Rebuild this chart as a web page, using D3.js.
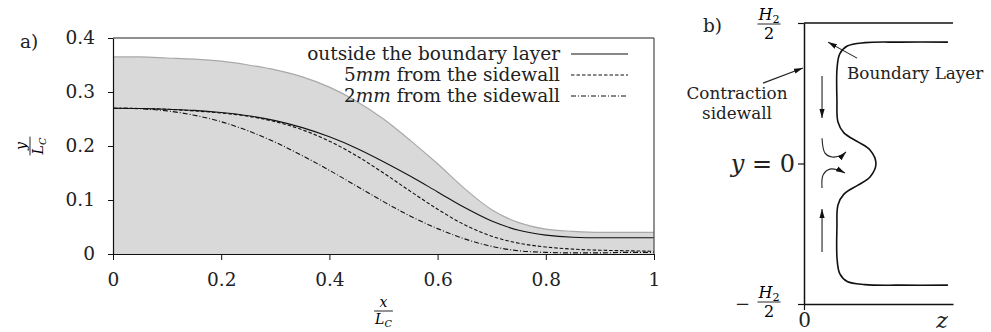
<!DOCTYPE html>
<html>
<head>
<meta charset="utf-8">
<script src="https://cdn.jsdelivr.net/npm/d3@7"></script>
<style>
  body { margin: 0; background: #fff; }
  svg { display: block; font-family: 'DejaVu Serif', serif; }
  .axis text { font-family: 'DejaVu Serif', serif; font-size: 18.5px; fill: #222; }
  .axis path, .axis line { stroke: #111; }
</style>
</head>
<body>
<div id="chart"></div>
<script>
// ---- panel a: streamline height along the contraction ----
const XS      = [0, 0.05, 0.1, 0.15, 0.2, 0.25, 0.3, 0.35, 0.4, 0.45, 0.5, 0.55, 0.6, 0.65, 0.7, 0.75, 0.8, 0.85, 0.9, 0.95, 1];
const WALL    = [0.365, 0.365, 0.363, 0.361, 0.357, 0.350, 0.341, 0.328, 0.309, 0.283, 0.250, 0.210, 0.167, 0.121, 0.082, 0.058, 0.046, 0.042, 0.040, 0.040, 0.040];
const OUTSIDE = [0.270, 0.2695, 0.268, 0.266, 0.262, 0.256, 0.247, 0.234, 0.217, 0.196, 0.171, 0.144, 0.115, 0.086, 0.061, 0.044, 0.035, 0.031, 0.030, 0.030, 0.030];
const MM5     = [0.270, 0.2695, 0.268, 0.265, 0.261, 0.255, 0.245, 0.230, 0.209, 0.182, 0.150, 0.116, 0.083, 0.054, 0.033, 0.020, 0.013, 0.009, 0.007, 0.006, 0.005];
const MM2     = [0.270, 0.269, 0.265, 0.257, 0.245, 0.228, 0.207, 0.182, 0.155, 0.126, 0.097, 0.070, 0.047, 0.028, 0.014, 0.006, 0.003, 0.002, 0.002, 0.003, 0.003];

const SERIES_LABELS = [
  [['outside the boundary layer', false]],
  [['5', false], ['mm', true], [' from the sidewall', false]],
  [['2', false], ['mm', true], [' from the sidewall', false]]
];
const X_TICKS = [0, 0.2, 0.4, 0.6, 0.8, 1];
const Y_TICKS = [0, 0.1, 0.2, 0.3, 0.4];

// ---- panel b: sketch of the sidewall boundary layer (z, y/H2) ----
const BL_PROFILE = [
  [0.966, 0.432], [0.644, 0.432], [0.409, 0.430], [0.290, 0.418], [0.240, 0.390], [0.222, 0.340],
  [0.221, 0.226], [0.228, 0.148], [0.268, 0.109], [0.362, 0.077], [0.443, 0.048], [0.483, 0],
  [0.443, -0.048], [0.362, -0.077], [0.268, -0.109], [0.228, -0.148], [0.221, -0.226],
  [0.222, -0.340], [0.240, -0.392], [0.290, -0.420], [0.409, -0.431], [0.644, -0.433], [0.966, -0.433]
];
const FLOW_ARROWS = [
  [[0.121, 0.311], [0.121, 0.162]],
  [[0.121, -0.315], [0.121, -0.162]],
  [[0.121, 0.090], [0.141, 0.037], [0.188, 0.023], [0.255, 0.030], [0.282, 0.041]],
  [[0.121, -0.087], [0.128, -0.041], [0.174, -0.020], [0.228, -0.023], [0.275, -0.034]]
];
const LABEL_ARROWS = [
  [[0.356, 0.375], [0.161, 0.432]],
  [[-0.275, 0.286], [-0.007, 0.340]]
];

const svg = d3.select('#chart').append('svg')
  .attr('width', 991).attr('height', 332);

svg.append('defs').append('marker')
  .attr('id', 'head')
  .attr('viewBox', '0 -3 9 6')
  .attr('refX', 9).attr('refY', 0)
  .attr('markerUnits', 'userSpaceOnUse')
  .attr('markerWidth', 9).attr('markerHeight', 6)
  .attr('orient', 'auto')
  .append('path').attr('d', 'M0,-2.6L9,0L0,2.6Z').attr('fill', '#111');

// small helper for stacked fractions like H2/2
function fraction(g, cx, cy, num, den, size) {
  const f = g.append('g').attr('transform', `translate(${cx},${cy})`)
    .style('font-size', size + 'px');
  const t = f.append('text').attr('text-anchor', 'middle').attr('y', -size * 0.28);
  num.forEach(p => t.append('tspan').attr('font-style', p[1] ? 'italic' : null)
    .attr('font-size', p[2] ? size * 0.7 + 'px' : null)
    .attr('dy', p[2] ? size * 0.2 : null)
    .text(p[0]));
  const b = f.append('text').attr('text-anchor', 'middle').attr('y', size * 0.95);
  den.forEach(p => b.append('tspan').attr('font-style', p[1] ? 'italic' : null)
    .attr('font-size', p[2] ? size * 0.7 + 'px' : null)
    .attr('dy', p[2] ? size * 0.2 : null)
    .text(p[0]));
  const w = Math.max(t.node().getComputedTextLength(), b.node().getComputedTextLength()) + 2;
  f.append('line').attr('x1', -w / 2).attr('x2', w / 2)
    .attr('stroke', '#111').attr('stroke-width', 0.9);
  return f;
}

/* ---------------- panel a ---------------- */
const x = d3.scaleLinear().domain([0, 1]).range([113, 654]);
const y = d3.scaleLinear().domain([0, 0.4]).range([254, 38]);
const ga = svg.append('g');

const rows = XS.map((v, i) => ({ x: v, wall: WALL[i], s: [OUTSIDE[i], MM5[i], MM2[i]] }));

ga.append('path').datum(rows)
  .attr('fill', '#d9d9d9')
  .attr('d', d3.area().x(d => x(d.x)).y0(y(0)).y1(d => y(d.wall)).curve(d3.curveMonotoneX));
ga.append('path').datum(rows)
  .attr('fill', 'none').attr('stroke', '#a9a9a9').attr('stroke-width', 1.2)
  .attr('d', d3.line().x(d => x(d.x)).y(d => y(d.wall)).curve(d3.curveMonotoneX));

const DASHES = [null, '3.5,2', '5,2,1,2'];
[0, 1, 2].forEach(k => {
  ga.append('path').datum(rows)
    .attr('fill', 'none').attr('stroke', '#111').attr('stroke-width', 1.1)
    .attr('stroke-dasharray', DASHES[k])
    .attr('d', d3.line().x(d => x(d.x)).y(d => y(d.s[k])).curve(d3.curveMonotoneX));
});

// frame top / right
ga.append('line').attr('x1', x(0)).attr('x2', x(1)).attr('y1', y(0.4)).attr('y2', y(0.4))
  .attr('stroke', '#222').attr('stroke-width', 1.1);
ga.append('line').attr('x1', x(1)).attr('x2', x(1)).attr('y1', y(0.4)).attr('y2', y(0))
  .attr('stroke', '#555').attr('stroke-width', 1.3);

ga.append('g').attr('class', 'axis')
  .attr('transform', `translate(0,${y(0)})`)
  .call(d3.axisBottom(x).tickValues(X_TICKS).tickSize(6).tickSizeOuter(0).tickPadding(13)
    .tickFormat(d3.format('')));
ga.append('g').attr('class', 'axis')
  .attr('transform', `translate(${x(0)},0)`)
  .call(d3.axisLeft(y).tickValues(Y_TICKS).tickSize(5).tickSizeOuter(0).tickPadding(13)
    .tickFormat(d3.format('')));
ga.selectAll('.axis path').attr('stroke-width', 1.2);

// legend
const legend = ga.append('g');
SERIES_LABELS.forEach((parts, i) => {
  const ly = 54 + i * 21;
  const t = legend.append('text').attr('x', 560).attr('y', ly).attr('dy', '0.35em')
    .attr('text-anchor', 'end').style('font-size', '18.5px').attr('fill', '#222');
  parts.forEach(p => t.append('tspan').attr('font-style', p[1] ? 'italic' : null).text(p[0]));
  legend.append('line').attr('x1', 571).attr('x2', 628).attr('y1', ly).attr('y2', ly)
    .attr('stroke', '#111').attr('stroke-width', 1.1).attr('stroke-dasharray', DASHES[i]);
});

svg.append('text').attr('x', 20).attr('y', 42).attr('dy', '0.35em')
  .style('font-size', '18.5px').attr('fill', '#222').text('a)');

fraction(svg, x(0.5), 311, [['x', true]], [['L', true], ['C', true, true]], 14);
fraction(svg, 0, 0, [['y', true]], [['L', true], ['C', true, true]], 14)
  .attr('transform', 'translate(30,146) rotate(-90)');

/* ---------------- panel b ---------------- */
const z = d3.scaleLinear().domain([0, 1]).range([804, 953]);
const h = d3.scaleLinear().domain([-0.5, 0.5]).range([304, 23]);
const gb = svg.append('g');

gb.append('g').attr('class', 'axis')
  .attr('transform', `translate(${z(0)},0)`)
  .call(d3.axisLeft(h).tickValues([-0.5, 0, 0.5]).tickSize(6).tickSizeOuter(0).tickFormat(''));
gb.append('g').attr('class', 'axis')
  .attr('transform', `translate(0,${h(-0.5)})`)
  .call(d3.axisBottom(z).tickValues([0]).tickSize(6).tickSizeOuter(0).tickPadding(3)
    .tickFormat(d3.format('')))
  .selectAll('text').style('font-size', '20px');
gb.append('line').attr('x1', z(0)).attr('x2', z(1)).attr('y1', h(0.5)).attr('y2', h(0.5))
  .attr('stroke', '#111').attr('stroke-width', 1.5);
gb.selectAll('.axis path').attr('stroke-width', 1.5);
gb.selectAll('.axis line').attr('stroke-width', 1.2);

gb.append('path').datum(BL_PROFILE)
  .attr('fill', 'none').attr('stroke', '#111').attr('stroke-width', 1.6)
  .attr('d', d3.line().x(d => z(d[0])).y(d => h(d[1])).curve(d3.curveCatmullRom.alpha(0.5)));

FLOW_ARROWS.concat(LABEL_ARROWS).forEach(a => {
  gb.append('path').datum(a)
    .attr('fill', 'none').attr('stroke', '#222').attr('stroke-width', 1.1)
    .attr('marker-end', 'url(#head)')
    .attr('d', d3.line().x(d => z(d[0])).y(d => h(d[1])).curve(d3.curveCatmullRom.alpha(0.5)));
});

gb.append('text').attr('x', 703).attr('y', 26).attr('dy', '0.35em')
  .style('font-size', '18.5px').attr('fill', '#222').text('b)');
fraction(gb, 769, 24, [['H', true], ['2', false, true]], [['2', false]], 16);
fraction(gb, 769, 302, [['H', true], ['2', false, true]], [['2', false]], 16);
gb.append('text').attr('x', 750).attr('y', h(-0.5)).attr('dy', '0.32em')
  .attr('text-anchor', 'end').style('font-size', '18px').attr('fill', '#222').text('\u2212');

const yz = gb.append('text').attr('x', 795).attr('y', h(0)).attr('dy', '0.35em')
  .attr('text-anchor', 'end').style('font-size', '24px').attr('fill', '#222');
yz.append('tspan').attr('font-style', 'italic').text('y');
yz.append('tspan').text(' = 0');

gb.append('text').attr('x', 942).attr('y', 328)
  .attr('text-anchor', 'middle').attr('font-style', 'italic')
  .style('font-size', '22px').attr('fill', '#222').text('z');

gb.append('text').attr('x', 847).attr('y', 73).attr('dy', '0.35em')
  .style('font-size', '16.8px').attr('fill', '#222').text('Boundary Layer');
gb.append('text').attr('x', 737).attr('y', 93).attr('dy', '0.35em').attr('text-anchor', 'middle')
  .style('font-size', '16.8px').attr('fill', '#222').text('Contraction');
gb.append('text').attr('x', 737).attr('y', 113).attr('dy', '0.35em').attr('text-anchor', 'middle')
  .style('font-size', '16.8px').attr('fill', '#222').text('sidewall');
</script>
</body>
</html>
